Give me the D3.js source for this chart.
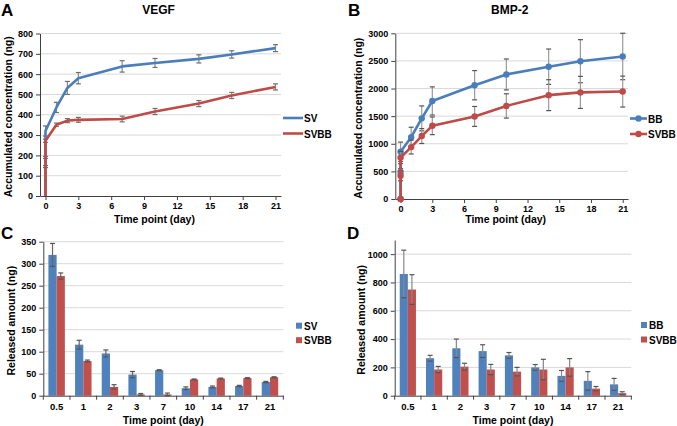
<!DOCTYPE html>
<html><head><meta charset="utf-8">
<script src="https://cdn.jsdelivr.net/npm/d3@7"></script>
<style>
body{margin:0;background:#fff;}
svg text{font-family:"Liberation Sans",Arial,sans-serif;font-weight:bold;fill:#000;}
</style></head>
<body>
<svg id="c" width="677" height="426"></svg>
<script>
// ---------- Data ----------
const timeA = [0, 0, 0, 1, 2, 3, 7, 10, 14, 17, 21];
const vegfSV = [0, 190, 320, 436, 532, 580, 638, 655, 675, 697, 728];
const vegfSVErr = [0, 5, 25, 25, 32, 28, 28, 22, 20, 18, 17];
const vegfSVBB = [0, 145, 272, 351, 371, 375, 379, 416, 455, 495, 537];
const vegfSVBBErr = [0, 5, 8, 8, 10, 12, 14, 15, 15, 15, 15];

const timeB = [0, 0, 0, 1, 2, 3, 7, 10, 14, 17, 21];
const bmpBB = [0, 490, 855, 1120, 1460, 1775, 2060, 2255, 2395, 2495, 2580];
const bmpBBErr = [0, 60, 175, 180, 225, 255, 265, 280, 320, 390, 420];
const bmpSVBB = [0, 420, 750, 940, 1140, 1325, 1495, 1685, 1880, 1930, 1945];
const bmpSVBBErr = [0, 90, 110, 125, 135, 160, 180, 220, 280, 290, 280];

const xTicksLine = [0, 3, 6, 9, 12, 15, 18, 21];

const dayCats = ["0.5", "1", "2", "3", "7", "10", "14", "17", "21"];
const relSV = [320, 116, 96, 48, 58, 17, 20, 22, 31];
const relSVErr = [26, 10, 8, 7, 1, 3, 2, 1.5, 1.5];
const relSVBB = [272, 79, 20, 3, 3, 37, 39, 40, 42];
const relSVBBErr = [7, 2, 5, 2, 3, 1, 1, 1, 1];

const relBB = [860, 265, 335, 315, 285, 200, 140, 105, 80];
const relBBErr = [168, 20, 65, 45, 20, 20, 38, 65, 42];
const relSVBB2 = [750, 185, 205, 185, 170, 185, 200, 50, 18];
const relSVBB2Err = [105, 22, 24, 36, 30, 72, 62, 15, 10];

const BLUE = "#4a7ebb", RED = "#be4b48";
const BLUEBAR = "#4f81bd", REDBAR = "#c0504d";

const svg = d3.select("#c");
const fmt = d3.format("d");

function styleAxis(g){
  g.select(".domain").attr("stroke","#404040").attr("stroke-width",1);
  g.selectAll(".tick line").attr("stroke","#404040");
  g.selectAll(".tick text").style("font-size","9px").attr("fill","#000");
}

function yAxisAndGrid(y, x0, x1, ticks){
  svg.append("g").selectAll("line").data(ticks.filter(t=>t>0)).join("line")
    .attr("x1",x0).attr("x2",x1).attr("y1",d=>y(d)).attr("y2",d=>y(d))
    .attr("stroke","#d9d9d9").attr("stroke-width",1);
  const g = svg.append("g").attr("transform",`translate(${x0},0)`)
    .call(d3.axisLeft(y).tickValues(ticks).tickFormat(fmt).tickSize(4).tickPadding(3).tickSizeOuter(0));
  styleAxis(g);
}

// ---------- Line panels ----------
function linePanel(opt){
  const x = d3.scaleLinear().domain([-0.5,21.5]).range([opt.x0,opt.x1]);
  const y = d3.scaleLinear().domain([0,opt.ymax]).range([opt.yb,opt.yt]);
  yAxisAndGrid(y, opt.x0, opt.x1, opt.yticks);
  const gx = svg.append("g").attr("transform",`translate(0,${opt.yb})`)
    .call(d3.axisBottom(x).tickValues(xTicksLine).tickFormat(fmt).tickSize(4).tickPadding(3).tickSizeOuter(0));
  styleAxis(gx);
  opt.series.forEach(s=>{
    const pts = opt.time.map((t,i)=>({t, v:s.vals[i], e:s.errs[i]}));
    const eg = svg.append("g");
    pts.filter(p=>p.e>0).forEach(p=>{
      eg.append("line").attr("x1",x(p.t)).attr("x2",x(p.t)).attr("y1",y(p.v-p.e)).attr("y2",y(p.v+p.e))
        .attr("stroke",opt.errColor).attr("stroke-width",1.2);
      [p.v-p.e,p.v+p.e].forEach(v=>eg.append("line").attr("x1",x(p.t)-2.5).attr("x2",x(p.t)+2.5)
        .attr("y1",y(v)).attr("y2",y(v)).attr("stroke",opt.capColor).attr("stroke-width",1.2));
    });
    svg.append("path").datum(pts)
      .attr("d",d3.line().x(d=>x(d.t)).y(d=>y(d.v)))
      .attr("fill","none").attr("stroke",s.color).attr("stroke-width",2.6).attr("stroke-linejoin","round");
    if(opt.markers){
      svg.append("g").selectAll("circle").data(pts).join("circle")
        .attr("cx",d=>x(d.t)).attr("cy",d=>y(d.v)).attr("r",3.2).attr("fill",s.color);
    }
  });
  // legend
  opt.series.forEach((s,i)=>{
    const ly = opt.legY + i*15.5;
    svg.append("line").attr("x1",opt.legX).attr("x2",opt.legX+opt.legW).attr("y1",ly).attr("y2",ly)
      .attr("stroke",s.color).attr("stroke-width",2.6);
    if(opt.markers) svg.append("circle").attr("cx",opt.legX+opt.legW/2).attr("cy",ly).attr("r",3.2).attr("fill",s.color);
    svg.append("text").attr("x",opt.legX+opt.legW+1).attr("y",ly+4).style("font-size","10px").text(s.name);
  });
  // titles
  svg.append("text").attr("x",(opt.x0+opt.x1)/2-2).attr("y",14).attr("text-anchor","middle")
    .style("font-size","12px").text(opt.title);
  svg.append("text").attr("x",(opt.x0+opt.x1)/2-6).attr("y",223).attr("text-anchor","middle")
    .style("font-size","10.5px").text("Time point (day)");
  svg.append("text").attr("transform",`translate(${opt.ylabX},${(opt.yb+opt.yt)/2+2}) rotate(-90)`)
    .attr("text-anchor","middle").style("font-size","10.5px").text("Accumulated concentration (ng)");
  svg.append("text").attr("x",opt.letterX).attr("y",16).style("font-size","17px").text(opt.letter);
}

linePanel({x0:40,x1:281,yb:196,yt:33.5,ymax:800,yticks:d3.range(0,801,100),time:timeA,
  series:[{name:"SV",vals:vegfSV,errs:vegfSVErr,color:BLUE},{name:"SVBB",vals:vegfSVBB,errs:vegfSVBBErr,color:RED}],
  errColor:"#8c8c8c",capColor:"#6e6e6e",markers:false,legX:283,legW:20,legY:118,title:"VEGF",ylabX:12,letter:"A",letterX:1});

linePanel({x0:395.3,x1:628,yb:199,yt:33.3,ymax:3000,yticks:d3.range(0,3001,500),time:timeB,
  series:[{name:"BB",vals:bmpBB,errs:bmpBBErr,color:BLUE},{name:"SVBB",vals:bmpSVBB,errs:bmpSVBBErr,color:RED}],
  errColor:"#9a9a9a",capColor:"#555",markers:true,legX:630,legW:17,legY:118.5,title:"BMP-2",ylabX:362,letter:"B",letterX:348});

// ---------- Bar panels ----------
function barPanel(opt){
  const x = d3.scaleBand().domain(dayCats).range([opt.x0,opt.x1]).paddingInner(0).paddingOuter(0);
  const names = opt.series.map(s=>s.name);
  const xi = d3.scaleBand().domain(names).range([0,x.bandwidth()]).paddingOuter(0.62).paddingInner(0);
  const y = d3.scaleLinear().domain([0,opt.ymax]).range([opt.yb,opt.yt]);
  yAxisAndGrid(y, opt.x0, opt.x1, opt.yticks);
  opt.series.forEach(s=>{
    const g = svg.append("g");
    dayCats.forEach((c,i)=>{
      const bx = x(c)+xi(s.name), bw = xi.bandwidth();
      g.append("rect").attr("x",bx).attr("width",bw).attr("y",y(s.vals[i])).attr("height",opt.yb-y(s.vals[i]))
        .attr("fill",s.color);
    });
  });
  opt.series.forEach(s=>{
    const g = svg.append("g");
    dayCats.forEach((c,i)=>{
      const cx = x(c)+xi(s.name)+xi.bandwidth()/2;
      const lo = Math.max(0,s.vals[i]-s.errs[i]), hi = s.vals[i]+s.errs[i];
      g.append("line").attr("x1",cx).attr("x2",cx).attr("y1",y(lo)).attr("y2",y(hi)).attr("stroke",opt.errColor).attr("stroke-width",1.2);
      [lo,hi].forEach(v=>g.append("line").attr("x1",cx-2.5).attr("x2",cx+2.5).attr("y1",y(v)).attr("y2",y(v))
        .attr("stroke","#555").attr("stroke-width",1.2));
    });
  });
  // x axis with ticks at band boundaries
  const gx = svg.append("g").attr("transform",`translate(0,${opt.yb})`)
    .call(d3.axisBottom(x).tickSize(0).tickPadding(8));
  styleAxis(gx);
  gx.selectAll(".tick text").style("font-size","9.5px");
  gx.selectAll(".bnd").data(dayCats.map(c=>x(c)).concat([opt.x1])).join("line").attr("class","bnd")
    .attr("x1",d=>d).attr("x2",d=>d).attr("y1",0).attr("y2",4).attr("stroke","#404040");
  // legend
  opt.series.forEach((s,i)=>{
    const ly = opt.legY + i*14.5;
    svg.append("rect").attr("x",opt.legX).attr("y",ly-3).attr("width",6).attr("height",6).attr("fill",s.color);
    svg.append("text").attr("x",opt.legX+8).attr("y",ly+4).style("font-size","10px").text(s.name);
  });
  svg.append("text").attr("x",(opt.x0+opt.x1)/2).attr("y",424).attr("text-anchor","middle")
    .style("font-size","10.5px").text("Time point (day)");
  svg.append("text").attr("transform",`translate(${opt.ylabX},${(opt.yb+opt.yt)/2+2}) rotate(-90)`)
    .attr("text-anchor","middle").style("font-size","10.5px").text("Released amount (ng)");
  svg.append("text").attr("x",opt.letterX).attr("y",239).style("font-size","17px").text(opt.letter);
}

barPanel({x0:43.3,x1:283.3,yb:395.7,yt:241.7,ymax:350,yticks:d3.range(0,351,50),
  series:[{name:"SV",vals:relSV,errs:relSVErr,color:BLUEBAR},{name:"SVBB",vals:relSVBB,errs:relSVBBErr,color:REDBAR}],
  errColor:"#666",legX:296,legY:325.7,ylabX:15,letter:"C",letterX:1});

barPanel({x0:394.7,x1:631.3,yb:395.7,yt:240,ymax:1100,yticks:d3.range(0,1001,200),
  series:[{name:"BB",vals:relBB,errs:relBBErr,color:BLUEBAR},{name:"SVBB",vals:relSVBB2,errs:relSVBB2Err,color:REDBAR}],
  errColor:"#888",legX:641,legY:325,ylabX:365,letter:"D",letterX:347});
</script>
</body></html>
